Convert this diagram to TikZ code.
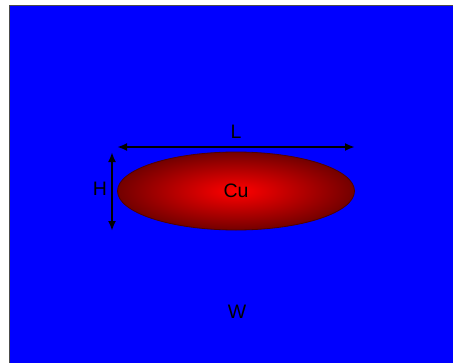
\documentclass[tikz,border=0pt]{standalone}
\usepackage{fontspec}
\setmainfont{Liberation Sans}
\usetikzlibrary{arrows.meta,shapes.geometric}
\definecolor{bgblue}{RGB}{0,0,255}
\definecolor{cured}{RGB}{255,0,0}
\definecolor{cudark}{RGB}{115,0,0}
\begin{document}
\begin{tikzpicture}[x=1pt,y=-1pt,
  lbl/.style={font=\fontsize{19.5}{22}\selectfont, text=black, inner sep=0pt},
  dim/.style={line width=2pt, {Latex[length=10pt,width=8pt]}-{Latex[length=10pt,width=8pt]}}]
\useasboundingbox (0,0) rectangle (453,362);
\begin{scope}
\clip (0,0) rectangle (453,362);
\draw[draw=black!70, line width=1pt, fill=bgblue] (9,5) rectangle (470,380);
\end{scope}
\node[ellipse, minimum width=237pt, minimum height=78pt, inner sep=0pt, draw=cudark!70!black, line width=0.8pt,
  inner color=cured, outer color=cudark] (cu) at (236,191) {};
\node[lbl] (culbl) at (cu.center) {Cu};
\coordinate (la) at (117,147);
\coordinate (lb) at (355,147);
\draw[dim] (la) -- (lb);
\node[lbl] (L) at (236,132) {L};
\coordinate (ha) at (112,152);
\coordinate (hb) at (112,231);
\draw[dim] (ha) -- (hb);
\node[lbl] (H) at (100,189) {H};
\node[lbl] (W) at (237,312) {W};
\end{tikzpicture}
\end{document}
